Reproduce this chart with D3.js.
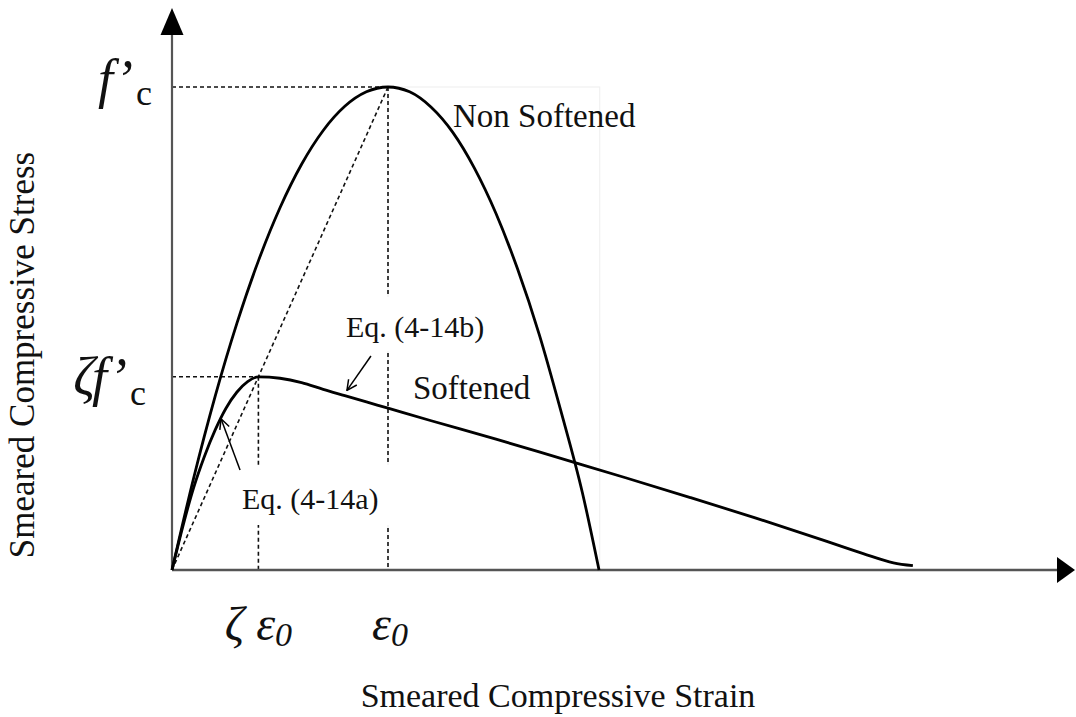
<!DOCTYPE html>
<html>
<head>
<meta charset="utf-8">
<script src="https://cdn.jsdelivr.net/npm/d3@7/dist/d3.min.js"></script>
<style>
  html, body { margin: 0; padding: 0; background: #fff; }
  svg text { font-family: "Liberation Serif", "Times New Roman", serif; fill: #111; }
</style>
</head>
<body>
<svg id="chart" width="1076" height="717"></svg>
<script>
// Strain in units of ε0, stress in units of f'c
const nonSoftenedStrain = [0, 0.1, 0.2, 0.3, 0.4, 0.5, 0.6, 0.7, 0.8, 0.9, 1.0, 1.1, 1.2, 1.3, 1.4, 1.5, 1.6, 1.7, 1.8, 1.9, 1.977];
const nonSoftenedStress = [0, 0.19, 0.36, 0.51, 0.64, 0.75, 0.84, 0.91, 0.96, 0.99, 1.0, 0.99, 0.958, 0.906, 0.832, 0.738, 0.623, 0.488, 0.33, 0.16, 0];

const softenedStrain = [0, 0.05, 0.1, 0.15, 0.2, 0.25, 0.3, 0.35, 0.4, 0.5, 0.6, 0.7, 0.8, 0.9, 1.0, 1.2, 1.5, 1.8, 2.1, 2.4, 2.7, 3.0, 3.2, 3.34, 3.43];
const softenedStress = [0, 0.09, 0.17, 0.235, 0.29, 0.335, 0.368, 0.39, 0.4, 0.397, 0.388, 0.374, 0.361, 0.348, 0.335, 0.309, 0.271, 0.231, 0.191, 0.150, 0.108, 0.064, 0.034, 0.015, 0.009];

// Softening coefficient ζ and the peak of the unsoftened curve
const zeta = 0.4;
const peakStrain = 1.0;
const peakStress = 1.0;

// Annotation arrows: [tailStrain, tailStress, tipStrain, tipStress]
const eq14bArrow = [0.921, 0.443, 0.81, 0.372];
const eq14aArrow = [0.315, 0.207, 0.227, 0.313];

const svg = d3.select("#chart");

const x = d3.scaleLinear().domain([0, 1]).range([172, 388]);
const y = d3.scaleLinear().domain([0, 1]).range([570, 87]);

const xMax = x.invert(1075);
const yMax = y.invert(8);

const axisColor = "#555";

// Faint frame around the upper right label area
svg.append("rect")
  .attr("x", x(peakStrain)).attr("y", y(peakStress))
  .attr("width", x(1.98) - x(peakStrain)).attr("height", y(0) - y(peakStress))
  .attr("fill", "none").attr("stroke", "#f1f1f1").attr("stroke-width", 1.2);

// Dashed guide lines
const dash = "4,3";
const guides = [
  [[0, peakStress], [peakStrain, peakStress]],
  [[peakStrain, peakStress], [peakStrain, 0]],
  [[0, 0], [peakStrain, peakStress]],
  [[0, zeta * peakStress], [zeta * peakStrain, zeta * peakStress]],
  [[zeta * peakStrain, zeta * peakStress], [zeta * peakStrain, 0]]
];
svg.append("g").selectAll("line").data(guides).join("line")
  .attr("x1", d => x(d[0][0])).attr("y1", d => y(d[0][1]))
  .attr("x2", d => x(d[1][0])).attr("y2", d => y(d[1][1]))
  .attr("stroke", "#111").attr("stroke-width", 1.6)
  .attr("stroke-dasharray", dash);

// White backing boxes for the equation labels
svg.append("rect").attr("x", 340).attr("y", 297).attr("width", 155).attr("height", 54).attr("fill", "#fff");
svg.append("rect").attr("x", 235).attr("y", 465).attr("width", 160).attr("height", 60).attr("fill", "#fff");

// Axes
svg.append("line")
  .attr("x1", x(0)).attr("y1", y(0)).attr("x2", x(0)).attr("y2", y(yMax) + 20)
  .attr("stroke", axisColor).attr("stroke-width", 2.2);
svg.append("line")
  .attr("x1", x(0)).attr("y1", y(0)).attr("x2", x(xMax) - 12).attr("y2", y(0))
  .attr("stroke", axisColor).attr("stroke-width", 2.4);
svg.append("path")
  .attr("d", `M${x(0)},${y(yMax)} L${x(0) - 11.5},${y(yMax) + 27} L${x(0) + 11.5},${y(yMax) + 27} Z`)
  .attr("fill", "#000");
svg.append("path")
  .attr("d", `M${x(xMax)},${y(0)} L${x(xMax) - 18},${y(0) - 13} L${x(xMax) - 18},${y(0) + 13} Z`)
  .attr("fill", "#000");

// Stress-strain curves
const line = d3.line()
  .x(d => x(d[0])).y(d => y(d[1]))
  .curve(d3.curveMonotoneX);

const nonSoftened = d3.zip(nonSoftenedStrain, nonSoftenedStress);
const softened = d3.zip(softenedStrain, softenedStress);

svg.append("path").datum(nonSoftened).attr("d", line)
  .attr("fill", "none").attr("stroke", "#000").attr("stroke-width", 2.8)
  .attr("stroke-linejoin", "round");
svg.append("path").datum(softened).attr("d", line)
  .attr("fill", "none").attr("stroke", "#000").attr("stroke-width", 2.8)
  .attr("stroke-linejoin", "round");

// Annotation arrows
const defs = svg.append("defs");
defs.append("marker")
  .attr("id", "openArrow")
  .attr("viewBox", "0 0 12 12")
  .attr("refX", 11).attr("refY", 6)
  .attr("markerWidth", 12).attr("markerHeight", 12)
  .attr("markerUnits", "userSpaceOnUse")
  .attr("orient", "auto")
  .append("path")
  .attr("d", "M1,1 L11,6 L1,11")
  .attr("fill", "none").attr("stroke", "#000").attr("stroke-width", 1.5);

[eq14bArrow, eq14aArrow].forEach(a => {
  svg.append("line")
    .attr("x1", x(a[0])).attr("y1", y(a[1]))
    .attr("x2", x(a[2])).attr("y2", y(a[3]))
    .attr("stroke", "#000").attr("stroke-width", 1.5)
    .attr("marker-end", "url(#openArrow)");
});

// Curve and equation labels
svg.append("text").attr("x", 453).attr("y", 127).attr("font-size", 33).text("Non Softened");
svg.append("text").attr("x", 413).attr("y", 399).attr("font-size", 33).text("Softened");
svg.append("text").attr("x", 346).attr("y", 337).attr("font-size", 30).text("Eq. (4-14b)");
svg.append("text").attr("x", 242).attr("y", 509).attr("font-size", 30).text("Eq. (4-14a)");

// Stress level labels on the vertical axis
const fc = svg.append("text").attr("x", x(0) - 20).attr("y", y(peakStress) + 10)
  .attr("text-anchor", "end");
fc.append("tspan").attr("font-style", "italic").attr("font-size", 54)
  .attr("letter-spacing", -3).text("f’");
fc.append("tspan").attr("font-size", 36).attr("dx", 6).attr("dy", 8).text("c");

const zfc = svg.append("text").attr("x", x(0) - 26).attr("y", y(zeta * peakStress) + 18)
  .attr("text-anchor", "end");
zfc.append("tspan").attr("font-style", "italic").attr("font-size", 54)
  .attr("letter-spacing", -3).text("ζf’");
zfc.append("tspan").attr("font-size", 36).attr("dx", 6).attr("dy", 10).text("c");

// Strain level labels under the horizontal axis
const ze0 = svg.append("text").attr("x", x(zeta * peakStrain)).attr("y", 640)
  .attr("text-anchor", "middle").attr("font-style", "italic");
ze0.append("tspan").attr("font-size", 48).text("ζ ε");
ze0.append("tspan").attr("font-size", 34).attr("dy", 6).text("0");

const e0 = svg.append("text").attr("x", x(peakStrain) + 2).attr("y", 640)
  .attr("text-anchor", "middle").attr("font-style", "italic");
e0.append("tspan").attr("font-size", 48).text("ε");
e0.append("tspan").attr("font-size", 34).attr("dy", 6).text("0");

// Axis titles
svg.append("text").attr("x", 558).attr("y", 707).attr("text-anchor", "middle")
  .attr("font-size", 34).text("Smeared Compressive Strain");
svg.append("text")
  .attr("transform", "translate(34,355) rotate(-90)")
  .attr("text-anchor", "middle").attr("font-size", 35)
  .text("Smeared Compressive Stress");
</script>
</body>
</html>
